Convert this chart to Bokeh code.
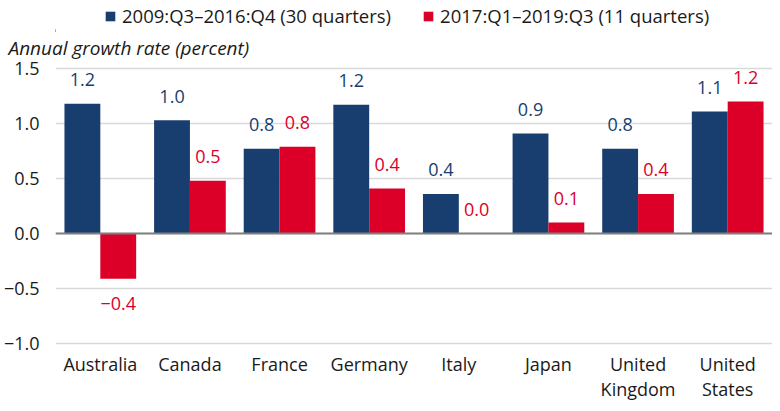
from bokeh.plotting import figure
from bokeh.layouts import column
from bokeh.models import (ColumnDataSource, FactorRange, Range1d, Span, Legend, LegendItem,
                          FixedTicker, CustomJSTickFormatter)
from bokeh.core.properties import value
from bokeh.transform import dodge
from bokeh.embed import file_html
from bokeh.resources import INLINE

countries = ["Australia", "Canada", "France", "Germany", "Italy", "Japan", "United\nKingdom", "United\nStates"]
period1 = [1.18, 1.03, 0.77, 1.17, 0.36, 0.91, 0.77, 1.11]
period2 = [-0.41, 0.48, 0.79, 0.41, 0.004, 0.10, 0.36, 1.20]
series_names = ["2009:Q3\u20132016:Q4 (30 quarters)", "2017:Q1\u20132019:Q3 (11 quarters)"]
y_ticks = [-1.0, -0.5, 0.0, 0.5, 1.0, 1.5]
y_title = "Annual growth rate (percent)"

BLUE = "#173e6f"
RED = "#dc0029"
TXT = "#1a1a1a"
FONT = "Open Sans"
FS = "18px"
W = 772
TOP_H = 32
MAIN_H = 371
LEFT = 55


def fmt(v):
    s = "%.1f" % abs(v)
    return ("\u2212" + s) if v < -0.05 else s


def make_src(vals):
    return ColumnDataSource(dict(
        c=countries, v=vals,
        lab=[fmt(v) for v in vals],
        off=[-24 if v >= 0 else 25 for v in vals],
    ))


# ---- header strip holding the legend ----
head = figure(width=W, height=TOP_H, x_range=Range1d(0, 10), y_range=Range1d(0, 10),
              output_backend="svg", toolbar_location=None,
              x_axis_location=None, y_axis_location=None,
              min_border_left=LEFT, min_border_right=0, min_border_top=0, min_border_bottom=0)
head.outline_line_color = None
head.grid.visible = False
# swatch renderers for the legend (their single bar lies outside the visible range)
d1 = head.vbar(x=[-100], top=[1], width=1, fill_color=BLUE, line_color=None)
d2 = head.vbar(x=[-100], top=[1], width=1, fill_color=RED, line_color=None)
legend = Legend(items=[LegendItem(label=series_names[0], renderers=[d1]),
                       LegendItem(label=series_names[1], renderers=[d2])],
                location=(104 - LEFT, 4), orientation="horizontal",
                glyph_width=12, glyph_height=12, label_standoff=6, spacing=31,
                label_height=20, padding=0, margin=0,
                border_line_color=None, background_fill_alpha=0,
                label_text_font=FONT, label_text_font_size="18.5px", label_text_color=TXT)
head.add_layout(legend, "center")

# ---- main chart ----
s1 = make_src(period1)
s2 = make_src(period2)

p = figure(width=W, height=MAIN_H, x_range=FactorRange(factors=countries),
           y_range=Range1d(-1.036, 1.573), output_backend="svg", toolbar_location=None,
           title=y_title,
           min_border_left=LEFT, min_border_right=0, min_border_top=28, min_border_bottom=56)
p.outline_line_color = None
p.title.text_font = FONT
p.title.text_font_size = "19px"
p.title.text_font_style = "italic"
p.title.text_color = TXT
p.title.align = "left"
p.title.offset = -(LEFT - 8)
p.title.standoff = 0

r1 = p.vbar(x=dodge("c", -0.2, range=p.x_range), top="v", width=0.4, source=s1,
            fill_color=BLUE, line_color=None)
r2 = p.vbar(x=dodge("c", 0.2, range=p.x_range), top="v", width=0.4, source=s2,
            fill_color=RED, line_color=None)

for src, col, dx in ((s1, BLUE, -0.2), (s2, RED, 0.2)):
    p.text(x=dodge("c", dx, range=p.x_range), y="v", text="lab", y_offset="off", source=src,
           text_color=col, text_align="center", text_baseline="middle",
           text_font=value(FONT), text_font_size=FS)

p.add_layout(Span(location=0, dimension="width", line_color="#808080", line_width=2))

p.xgrid.grid_line_color = None
p.ygrid.grid_line_color = "#d9d9d9"
p.ygrid.grid_line_width = 1.5
p.ygrid.ticker = FixedTicker(ticks=y_ticks)

p.yaxis.ticker = FixedTicker(ticks=y_ticks)
p.yaxis.formatter = CustomJSTickFormatter(
    code="return (tick < 0 ? '\\u2212' : '') + Math.abs(tick).toFixed(1);")
for ax in (p.xaxis[0], p.yaxis[0]):
    ax.axis_line_color = None
    ax.major_tick_line_color = None
    ax.minor_tick_line_color = None
    ax.major_tick_out = 0
    ax.major_tick_in = 0
    ax.major_label_text_font = FONT
    ax.major_label_text_font_size = FS
    ax.major_label_text_color = TXT
p.yaxis.major_label_standoff = 16
p.xaxis.major_label_standoff = 4
p.xaxis.major_label_text_line_height = 1.05

layout = column(head, p, spacing=0)
open("out.html", "w").write(file_html(layout, INLINE))
